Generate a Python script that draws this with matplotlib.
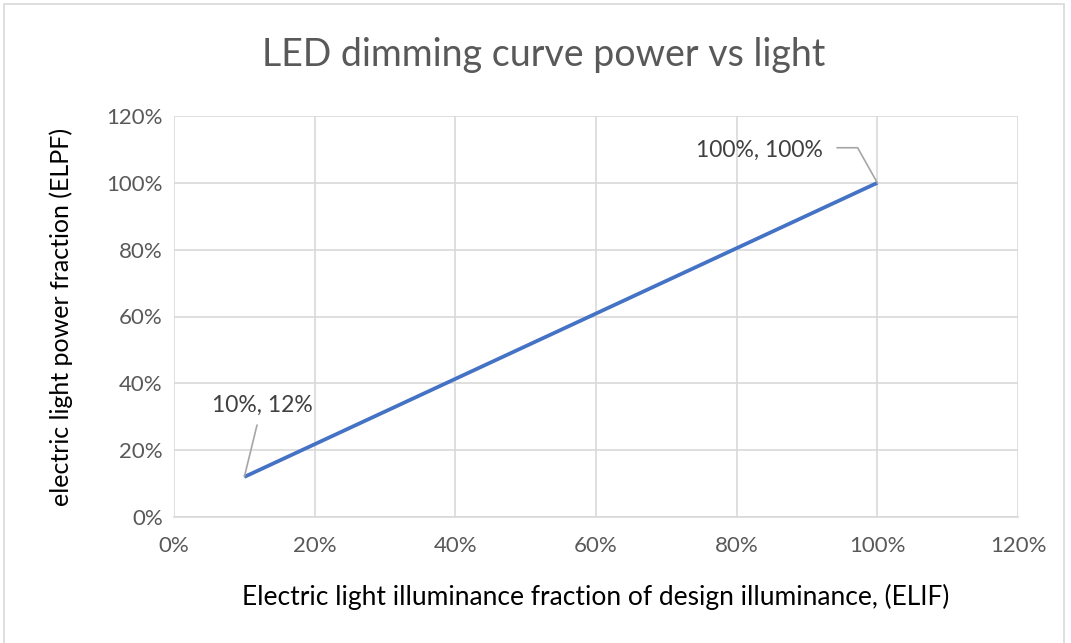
import matplotlib.pyplot as plt
from matplotlib.patches import Rectangle
from matplotlib.ticker import FuncFormatter, MultipleLocator

plt.rcParams['font.family'] = ['Lato', 'DejaVu Sans']

elif_frac = [0.10, 1.00]
elpf_frac = [0.12, 1.00]
point_labels = ['10%, 12%', '100%, 100%']

fig = plt.figure(figsize=(10.71, 6.43), dpi=100)
fig.patches.append(Rectangle((4 / 1071, -0.01), 1060 / 1071, 1 - 4 / 643 + 0.01,
                             transform=fig.transFigure, fill=False,
                             edgecolor='#d9d9d9', linewidth=1.2))
ax = fig.add_axes([174 / 1071, 1 - 517 / 643, (1018 - 174) / 1071, (517 - 116) / 643])

grid_c = '#d9d9d9'
txt_c = '#595959'

ax.plot(elif_frac, elpf_frac, color='#4472c4', linewidth=2.7, solid_capstyle='butt', zorder=3)

ax.set_xlim(0, 1.2)
ax.set_ylim(0, 1.2)
ax.xaxis.set_major_locator(MultipleLocator(0.2))
ax.yaxis.set_major_locator(MultipleLocator(0.2))
pct = FuncFormatter(lambda v, p: f'{v * 100:.0f}%')
ax.xaxis.set_major_formatter(pct)
ax.yaxis.set_major_formatter(pct)
ax.grid(True, color=grid_c, linewidth=1.2)
ax.set_axisbelow(True)
for s in ['top', 'right', 'left']:
    ax.spines[s].set_visible(False)
ax.spines['bottom'].set_color(grid_c)
ax.spines['bottom'].set_linewidth(1.2)
ax.tick_params(length=0, labelsize=16, labelcolor=txt_c, pad=14)
ax.tick_params(axis='y', pad=8)

ax.set_xlabel('Electric light illuminance fraction of design illuminance, (ELIF)',
              fontsize=19, color='black', labelpad=20)
ax.set_ylabel('electric light power fraction (ELPF)', fontsize=18, color='black', labelpad=24)
fig.text(544 / 1071, 1 - 55 / 643, 'LED dimming curve power vs light', fontsize=27,
         color=txt_c, ha='center', va='center')

# data labels with leader lines
ax.annotate(point_labels[0], xy=(elif_frac[0], elpf_frac[0]), xytext=(0.125, 0.335),
            fontsize=16.5, color='#404040', ha='center', va='center',
            arrowprops=dict(arrowstyle='-', color='#a6a6a6', lw=1.2, shrinkA=5, shrinkB=0))

x1, y1 = elif_frac[1], elpf_frac[1]
ax.text(x1 - 0.167, y1 + 0.098, point_labels[1], fontsize=16.5, color='#404040',
        ha='center', va='center')
ax.plot([x1 - 0.057, x1 - 0.028, x1], [y1 + 0.105, y1 + 0.105, y1],
        color='#a6a6a6', linewidth=1.2, zorder=4)

fig.savefig('out.png', dpi=100)
